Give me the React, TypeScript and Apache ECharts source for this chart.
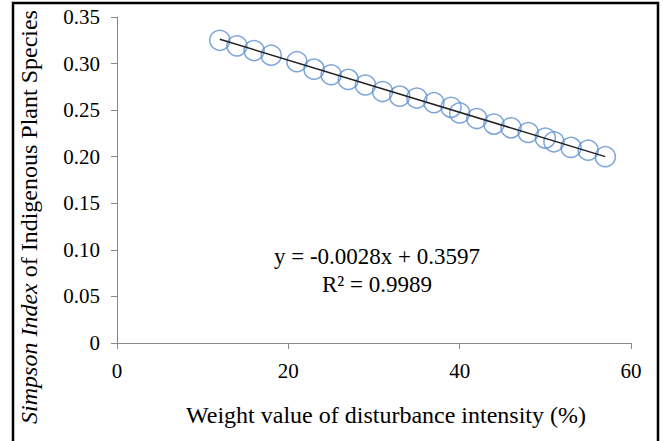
import React, { useEffect, useRef } from "react";
import * as echarts from "echarts";

const xValues = [12, 14, 16, 18, 21, 23, 25, 27, 29, 31, 33, 35, 37, 39, 40, 42, 44, 46, 48, 50, 51, 53, 55, 57];
const yValues = [0.325, 0.319, 0.314, 0.309, 0.302, 0.294, 0.288, 0.283, 0.277, 0.27, 0.265, 0.263, 0.258, 0.253, 0.247, 0.241, 0.235, 0.231, 0.226, 0.22, 0.216, 0.21, 0.207, 0.2];
const slope = -0.0028;
const intercept = 0.3597;
const equationText = "y = -0.0028x + 0.3597";
const r2Text = "R² = 0.9989";
const xTitle = "Weight value of disturbance intensity (%)";

const FONT = "'Liberation Serif', 'Times New Roman', serif";

export default function App() {
  const ref = useRef<HTMLDivElement>(null);
  useEffect(() => {
    if (!ref.current) return;
    const chart = echarts.init(ref.current, null, { renderer: "svg" });
    const points = xValues.map((x, i) => [x, yValues[i]]);
    const xMin = Math.min(...xValues);
    const xMax = Math.max(...xValues);
    const trend = [
      [xMin, slope * xMin + intercept],
      [xMax, slope * xMax + intercept],
    ];
    chart.setOption({
      animation: false,
      backgroundColor: "#fff",
      grid: { left: 117, right: 32, top: 17, bottom: 98, containLabel: false },
      xAxis: {
        type: "value",
        min: 0,
        max: 60,
        interval: 20,
        name: xTitle,
        nameLocation: "middle",
        nameGap: 60,
        nameTextStyle: { fontFamily: FONT, fontSize: 24, color: "#000", padding: [0, 0, 0, 24] },
        axisLine: { show: true, lineStyle: { color: "#8a8a8a", width: 1 } },
        axisTick: { show: true, length: 6, lineStyle: { color: "#8a8a8a" } },
        axisLabel: { fontFamily: FONT, fontSize: 21, color: "#000", margin: 17 },
        splitLine: { show: false },
      },
      yAxis: {
        type: "value",
        min: 0,
        max: 0.35,
        interval: 0.05,
        axisLine: { show: true, lineStyle: { color: "#8a8a8a", width: 1 } },
        axisTick: { show: true, length: 6, lineStyle: { color: "#8a8a8a" } },
        axisLabel: {
          fontFamily: FONT,
          fontSize: 21,
          color: "#000",
          margin: 17,
          formatter: (v: number) => (v === 0 ? "0" : v.toFixed(2)),
        },
        splitLine: { show: false },
      },
      series: [
        {
          type: "scatter",
          data: points,
          symbol: "circle",
          symbolSize: 20,
          itemStyle: { color: "rgba(0,0,0,0)", borderColor: "#5b8ed0", borderWidth: 1.5 },
          z: 2,
        },
        {
          type: "line",
          data: trend,
          symbol: "none",
          lineStyle: { color: "#222", width: 1.5 },
          z: 3,
        },
      ],
      graphic: [
        {
          type: "text",
          x: 29,
          y: 217,
          rotation: Math.PI / 2,
          style: {
            text: "{i|Simpson Index} of Indigenous Plant Species",
            align: "center",
            verticalAlign: "middle",
            font: `24px ${FONT}`,
            fill: "#000",
            rich: {
              i: { fontStyle: "italic", fontFamily: FONT, fontSize: 24, fill: "#000" },
            },
          },
        },
        {
          type: "text",
          x: 377,
          y: 256,
          style: { text: equationText, align: "center", verticalAlign: "middle", font: `23px ${FONT}`, fill: "#000" },
        },
        {
          type: "text",
          x: 377,
          y: 284,
          style: { text: r2Text, align: "center", verticalAlign: "middle", font: `23px ${FONT}`, fill: "#000" },
        },
        {
          type: "rect",
          shape: { x: 13, y: 3, width: 645, height: 460 },
          style: { fill: "none", stroke: "#000", lineWidth: 2.5 },
          silent: true,
        },
      ],
    });
    return () => chart.dispose();
  }, []);
  return <div ref={ref} style={{ position: "absolute", left: 0, top: 0, width: 663, height: 441 }} />;
}
